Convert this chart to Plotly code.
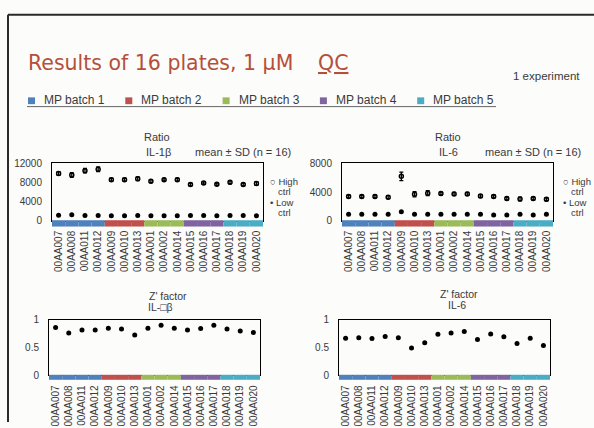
import plotly.graph_objects as go

W, H = 594, 428

plates = ["00AA007", "00AA008", "00AA011", "00AA012", "00AA009", "00AA010", "00AA013",
          "00AA001", "00AA002", "00AA014", "00AA015", "00AA016", "00AA017",
          "00AA018", "00AA019", "00AA020"]
plate_batch = [1, 1, 1, 1, 2, 2, 2, 3, 3, 3, 4, 4, 4, 5, 5, 5]
batch_names = ["MP batch 1", "MP batch 2", "MP batch 3", "MP batch 4", "MP batch 5"]
batch_colors = ["#4f81bd", "#c0504d", "#9bbb59", "#8064a2", "#4bacc6"]

il1b_high = [9900, 9600, 10500, 10800, 8600, 8600, 8800, 8300, 8600, 8600, 7600, 7900, 7650, 8050, 7600, 7800]
il1b_high_sd = [400, 500, 450, 500, 300, 300, 400, 300, 250, 300, 300, 250, 250, 300, 300, 400]
il1b_low = [1150, 1250, 1100, 1100, 1050, 1050, 1100, 1050, 1050, 1050, 1100, 1100, 1050, 1100, 1100, 1050]
il1b_low_sd = [60] * 16

il6_high = [3400, 3400, 3400, 3300, 6200, 3700, 3850, 3800, 3750, 3750, 3450, 3400, 3100, 3050, 3100, 3000]
il6_high_sd = [200, 200, 200, 200, 600, 350, 350, 200, 200, 200, 200, 200, 200, 250, 200, 200]
il6_low = [900, 900, 900, 900, 1250, 900, 900, 900, 900, 900, 900, 800, 800, 900, 800, 900]
il6_low_sd = [50] * 16

z_il1b = [0.865, 0.765, 0.82, 0.82, 0.85, 0.835, 0.73, 0.85, 0.905, 0.85, 0.82, 0.845, 0.905, 0.835, 0.80, 0.775]
z_il6 = [0.67, 0.68, 0.665, 0.70, 0.68, 0.495, 0.59, 0.74, 0.765, 0.79, 0.645, 0.745, 0.695, 0.575, 0.67, 0.54]


def px(x):
    return x / W


def py(y):
    return 1 - y / H


TXT = "#3a3a3a"
FONT = "Liberation Sans, Arial, sans-serif"
BG = "#fcfcfa"

fig = go.Figure()

# panel geometry (pixel boxes)
panels = [
    dict(x0=52, x1=263, y0=162, y1=221, yr=[0, 12000], tv=[0, 4000, 8000, 12000]),
    dict(x0=342, x1=553, y0=162, y1=221, yr=[0, 8000], tv=[0, 4000, 8000]),
    dict(x0=49, x1=260, y0=323, y1=380, yr=[0, 1], tv=[0, 0.5, 1]),
    dict(x0=339, x1=550, y0=323, y1=380, yr=[0, 1], tv=[0, 0.5, 1]),
]

ratio_sets = [
    (il1b_high, il1b_high_sd, il1b_low, il1b_low_sd),
    (il6_high, il6_high_sd, il6_low, il6_low_sd),
]

for k, (hi, hisd, lo, losd) in enumerate(ratio_sets):
    sfx = "" if k == 0 else str(k + 1)
    fig.add_trace(go.Scatter(
        x=plates, y=hi, mode="markers", xaxis="x" + sfx, yaxis="y" + sfx,
        marker=dict(symbol="circle-open", size=4, color="black", line=dict(width=1.5)),
        error_y=dict(type="data", array=hisd, color="black", thickness=1.3, width=2),
        showlegend=False, hoverinfo="skip"))
    fig.add_trace(go.Scatter(
        x=plates, y=lo, mode="markers", xaxis="x" + sfx, yaxis="y" + sfx,
        marker=dict(symbol="circle", size=5, color="black"),
        error_y=dict(type="data", array=losd, color="black", thickness=1, width=1.5),
        showlegend=False, hoverinfo="skip"))

for k, zs in enumerate([z_il1b, z_il6]):
    sfx = str(k + 3)
    fig.add_trace(go.Scatter(
        x=plates, y=zs, mode="markers", xaxis="x" + sfx, yaxis="y" + sfx,
        marker=dict(symbol="circle", size=5, color="black"),
        showlegend=False, hoverinfo="skip"))

layout = dict(
    width=W, height=H, margin=dict(l=0, r=0, t=0, b=0),
    paper_bgcolor=BG, plot_bgcolor=BG, showlegend=False,
    font=dict(family=FONT, color=TXT, size=10),
)
shapes = []
for i, p in enumerate(panels):
    sfx = "" if i == 0 else str(i + 1)
    xa = "xaxis" + sfx
    ya = "yaxis" + sfx
    layout[xa] = dict(
        domain=[px(p["x0"]), px(p["x1"])], anchor="y" + sfx,
        type="category", categoryorder="array", categoryarray=plates,
        range=[-0.5, len(plates) - 0.5],
        tickangle=-90, ticks="outside", ticklen=5, tickcolor="rgba(0,0,0,0)",
        tickfont=dict(size=10, color=TXT, family=FONT),
        showline=True, mirror=True, linecolor="black", linewidth=1,
        showgrid=False, zeroline=False, fixedrange=True)
    layout[ya] = dict(
        domain=[py(p["y1"]), py(p["y0"])], anchor="x" + sfx,
        range=p["yr"], tickvals=p["tv"], tickformat="d" if i < 2 else "",
        ticks="outside", ticklen=7, tickcolor="rgba(0,0,0,0)",
        tickfont=dict(size=10, color=TXT, family=FONT),
        showline=True, mirror=True, linecolor="black", linewidth=1,
        showgrid=False, zeroline=False, fixedrange=True)
    # batch colour strip under each plate
    strip_h = 0.1 if i < 2 else 0.08
    for j, b in enumerate(plate_batch):
        shapes.append(dict(
            type="rect", xref="x" + sfx, yref="y" + sfx + " domain",
            x0=j - 0.5, x1=j + 0.5, y0=-strip_h, y1=0.01,
            fillcolor=batch_colors[b - 1], line=dict(width=0), layer="above"))

# slide frame
shapes.append(dict(type="line", xref="paper", yref="paper", x0=px(8), x1=1, y0=py(9), y1=py(9),
                   line=dict(color="#2a2a2a", width=2)))
shapes.append(dict(type="line", xref="paper", yref="paper", x0=px(8), x1=px(8), y0=py(9), y1=0,
                   line=dict(color="#2a2a2a", width=2)))

# batch legend row
leg_x0 = 28
leg_step = 97.3
for i, (nm, c) in enumerate(zip(batch_names, batch_colors)):
    sx = leg_x0 + i * leg_step
    shapes.append(dict(type="rect", xref="paper", yref="paper",
                       x0=px(sx), x1=px(sx + 7), y0=py(101), y1=py(94),
                       fillcolor=c, line=dict(width=0)))
shapes.append(dict(type="line", xref="paper", yref="paper", x0=px(27), x1=px(496),
                   y0=py(103.5), y1=py(103.5), line=dict(color="#666666", width=1)))
layout["shapes"] = shapes

ann = []


def text(x, y, s, size=11, xanchor="center", color=TXT, family=FONT):
    ann.append(dict(x=px(x), y=py(y), xref="paper", yref="paper", text=s, showarrow=False,
                    xanchor=xanchor, yanchor="middle", font=dict(size=size, color=color, family=family)))


for i, nm in enumerate(batch_names):
    text(leg_x0 + i * leg_step + 14, 97, nm, size=12, xanchor="left")

text(26, 59, "Results of 16 plates, 1 µM", size=20.5, xanchor="left", color="#b4503a",
     family="DejaVu Sans, sans-serif")
text(316, 59, "<u>QC</u>", size=20.5, xanchor="left", color="#b4503a", family="DejaVu Sans, sans-serif")
text(582, 72, "1 experiment", size=11.5, xanchor="right")

# ratio titles
text(157, 135, "Ratio", size=11)
text(158, 150, "IL-1β", size=11)
text(243, 150, "mean ± SD (n = 16)", size=11)
text(448, 135, "Ratio", size=11)
text(449, 150, "IL-6", size=11)
text(533, 150, "mean ± SD (n = 16)", size=11)

# control legends
for lx in (268, 561):
    text(lx, 181, "○ High", size=9.5, xanchor="left")
    text(lx + 8, 191, "ctrl", size=9.5, xanchor="left")
    text(lx, 202, "• Low", size=9.5, xanchor="left")
    text(lx + 8, 212, "ctrl", size=9.5, xanchor="left")

# Z' titles
text(168, 298, "Z' factor", size=10.5)
text(160, 310, "IL-□β", size=10.5)
text(459, 296, "Z' factor", size=10.5)
text(457, 308, "IL-6", size=10.5)

layout["annotations"] = ann
fig.update_layout(**layout)
fig.write_html("out.html", config={"displayModeBar": False, "staticPlot": True},
               post_script="document.body.style.margin='0';document.body.style.padding='0';"
                           "document.documentElement.style.overflow='hidden';")
